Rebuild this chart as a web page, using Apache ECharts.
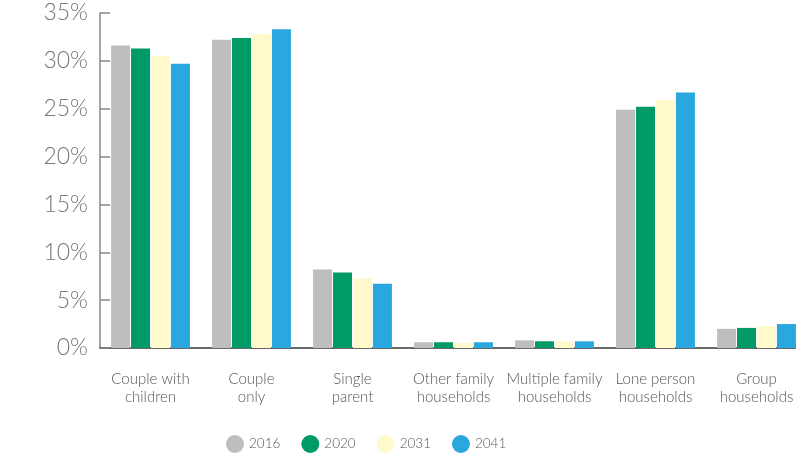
<!DOCTYPE html>
<html><head><meta charset="utf-8">
<script src="https://cdn.jsdelivr.net/npm/echarts@6/dist/echarts.min.js"></script>
<style>html,body{margin:0;padding:0;background:#fff;overflow:hidden;width:796px;height:455px}#c{width:810px;height:455px}</style>
</head><body><div id="c"></div>
<script>
var categories = ["Couple with\nchildren", "Couple\nonly", "Single\nparent", "Other family\nhouseholds", "Multiple family\nhouseholds", "Lone person\nhouseholds", "Group\nhouseholds"];
var years = ["2016", "2020", "2031", "2041"];
var v2016 = [31.6, 32.2, 8.2, 0.6, 0.8, 24.9, 2.0];
var v2020 = [31.3, 32.4, 7.9, 0.6, 0.7, 25.2, 2.1];
var v2031 = [30.5, 32.8, 7.3, 0.5, 0.7, 25.9, 2.3];
var v2041 = [29.7, 33.3, 6.7, 0.6, 0.7, 26.7, 2.5];
var yTicks = [0, 5, 10, 15, 20, 25, 30, 35];

var colors = ["#BDBEC0", "#009A66", "#FFF9CC", "#29A8E0"];
var font = "Lato, 'Open Sans', sans-serif";
var ellipse = 'path://M50,0 A50,50 0 1,1 50,100 A50,50 0 1,1 50,0 Z';
var seriesData = [v2016, v2020, v2031, v2041];

var chart = echarts.init(document.getElementById('c'), null, {renderer: 'canvas'});
chart.setOption({
  animation: false,
  color: colors,
  grid: {left: 100, top: 13, height: 335, width: 707},
  legend: {
    data: years.map(function (y) { return {name: y, icon: ellipse}; }),
    top: 430, left: 221,
    itemWidth: 18, itemHeight: 22, itemGap: 21,
    textStyle: {fontFamily: font, fontSize: 13.5, color: '#555', fontWeight: 300}
  },
  xAxis: {
    type: 'category', data: categories,
    axisLine: {lineStyle: {color: '#6a6a6a', width: 2}},
    axisTick: {inside: true, length: 7, lineStyle: {color: '#777', width: 1.5}},
    axisLabel: {interval: 0, margin: 22, fontFamily: font, fontSize: 15, lineHeight: 18, color: '#555', fontWeight: 300}
  },
  yAxis: {
    type: 'value', min: yTicks[0], max: yTicks[yTicks.length - 1], interval: 5,
    axisLine: {show: true, lineStyle: {color: '#888', width: 1.5}},
    axisTick: {show: true, inside: true, length: 10, lineStyle: {color: '#888', width: 1.5}},
    splitLine: {show: false},
    axisLabel: {margin: 12, fontFamily: font, fontSize: 23, color: '#777', fontWeight: 300, formatter: '{value}%'}
  },
  series: years.map(function (y, i) {
    return {name: y, type: 'bar', data: seriesData[i], barWidth: 19, barGap: '5%'};
  })
});
</script></body></html>
